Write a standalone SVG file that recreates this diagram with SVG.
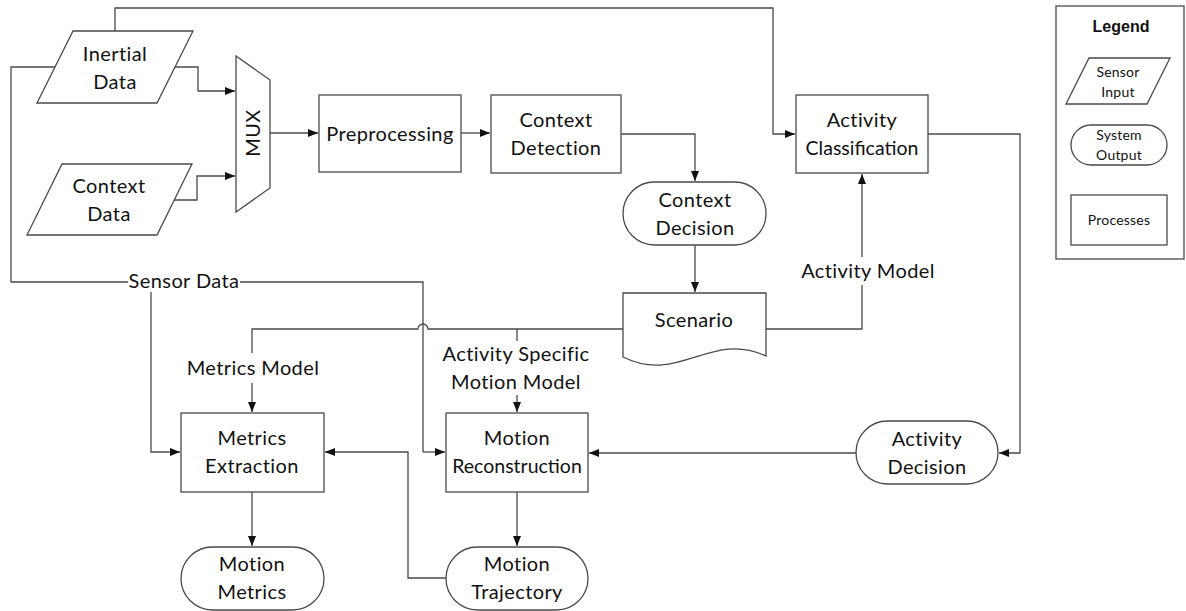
<svg xmlns="http://www.w3.org/2000/svg" width="1186" height="611" viewBox="0 0 1186 611">
  <defs>
    <marker id="arrow" viewBox="0 0 10 8" refX="10" refY="4" markerWidth="10" markerHeight="8" markerUnits="userSpaceOnUse" orient="auto">
      <path d="M0,0 L10,4 L0,8 Z" fill="#111"/>
    </marker>
    <style>
      .shape { fill: #fff; stroke: #4a4a4a; stroke-width: 1.3; }
      .wire { fill: none; stroke: #4a4a4a; stroke-width: 1.3; }
      .arr { marker-end: url(#arrow); }
      text { font-family: Lato, "Liberation Sans", sans-serif; font-size: 20px; letter-spacing: 0.4px; fill: #111; text-anchor: middle; }
      .tight { letter-spacing: 0; font-size: 19.5px; }
      .small { font-size: 14px; letter-spacing: 0.2px; }
      .title { font-family: "Liberation Sans", Arial, sans-serif; font-weight: bold; font-size: 16px; letter-spacing: 0; }
      .mask { fill: #fff; stroke: none; }
    </style>
  </defs>
  <rect width="1186" height="611" fill="#fff"/>

  <!-- connectors -->
  <g id="connectors">
    <path class="wire arr" d="M115,31 V8 H773 V134 H795"/>
    <path class="wire" d="M55,67 H11 V282 H423 V452"/>
    <path class="wire arr" d="M423,452 H445"/>
    <path class="wire arr" d="M151,282 V452 H180"/>
    <path class="wire arr" d="M175,67 H198 V91 H235"/>
    <path class="wire arr" d="M174,200 H197 V176 H235"/>
    <path class="wire arr" d="M270,133 H318"/>
    <path class="wire arr" d="M461,133 H490"/>
    <path class="wire arr" d="M621,134 H695 V181"/>
    <path class="wire arr" d="M695,245 V292"/>
    <path class="wire arr" d="M766,329 H862 V174"/>
    <path class="wire arr" d="M623,329 H428 A5,5 0 0 0 418,329 H252 V412"/>
    <path class="wire arr" d="M517,329 V412"/>
    <path class="wire arr" d="M928,134 H1020 V453 H999"/>
    <path class="wire arr" d="M856,453 H589"/>
    <path class="wire arr" d="M252,492 V546"/>
    <path class="wire arr" d="M517,492 V546"/>
    <path class="wire arr" d="M446,578 H408 V452 H325"/>
    <!-- connector labels -->
    <rect class="mask" x="128" y="272" width="112" height="20"/>
    <text x="184" y="288">Sensor Data</text>
    <rect class="mask" x="183" y="353" width="140" height="30"/>
    <text x="253" y="375">Metrics Model</text>
    <rect class="mask" x="436" y="341" width="161" height="54"/>
    <text x="516" y="361">Activity Specific</text>
    <text x="516" y="389">Motion Model</text>
    <rect class="mask" x="796" y="257" width="144" height="28"/>
    <text x="868" y="278">Activity Model</text>
  </g>

  <g id="inertial-data">
    <polygon class="shape" points="73,31 193,31 157,103 37,103"/>
    <text x="115" y="61">Inertial</text>
    <text x="115" y="89">Data</text>
  </g>

  <g id="context-data">
    <polygon class="shape" points="62,164 192,164 157,235 27,235"/>
    <text x="109" y="193">Context</text>
    <text x="109" y="221">Data</text>
  </g>

  <g id="mux">
    <polygon class="shape" points="236,56 270,80 270,188 236,212"/>
    <text x="0" y="0" transform="translate(260,133) rotate(-90)">MUX</text>
  </g>

  <g id="preprocessing">
    <rect class="shape" x="319" y="95" width="142" height="77"/>
    <text x="390" y="141">Preprocessing</text>
  </g>

  <g id="context-detection">
    <rect class="shape" x="491" y="95" width="130" height="78"/>
    <text x="556" y="127">Context</text>
    <text x="556" y="155">Detection</text>
  </g>

  <g id="context-decision">
    <rect class="shape" x="623" y="182" width="143" height="63" rx="31.5" ry="31.5"/>
    <text x="695" y="207">Context</text>
    <text x="695" y="235">Decision</text>
  </g>

  <g id="scenario">
    <path class="shape" d="M623,293 H766 V356 C710,330 680,385 623,357 Z"/>
    <text x="694" y="327">Scenario</text>
  </g>

  <g id="activity-classification">
    <rect class="shape" x="796" y="95" width="132" height="78"/>
    <text x="862" y="127">Activity</text>
    <text class="tight" x="862" y="155">Classification</text>
  </g>

  <g id="activity-decision">
    <rect class="shape" x="856" y="421" width="142" height="63" rx="31.5" ry="31.5"/>
    <text x="927" y="446">Activity</text>
    <text x="927" y="474">Decision</text>
  </g>

  <g id="metrics-extraction">
    <rect class="shape" x="181" y="413" width="143" height="79"/>
    <text x="252" y="445">Metrics</text>
    <text x="252" y="473">Extraction</text>
  </g>

  <g id="motion-reconstruction">
    <rect class="shape" x="446" y="413" width="142" height="79"/>
    <text x="517" y="445">Motion</text>
    <text class="tight" x="517" y="473">Reconstruction</text>
  </g>

  <g id="motion-metrics">
    <rect class="shape" x="181" y="547" width="143" height="63" rx="31.5" ry="31.5"/>
    <text x="252" y="571">Motion</text>
    <text x="252" y="599">Metrics</text>
  </g>

  <g id="motion-trajectory">
    <rect class="shape" x="446" y="547" width="142" height="63" rx="31.5" ry="31.5"/>
    <text x="517" y="571">Motion</text>
    <text x="517" y="599">Trajectory</text>
  </g>

  <g id="legend">
    <rect class="shape" x="1056" y="6" width="128" height="253"/>
    <text class="title" x="1121" y="32">Legend</text>
    <polygon class="shape" points="1089,58 1170,58 1147,104 1066,104"/>
    <text class="small" x="1118" y="77">Sensor</text>
    <text class="small" x="1118" y="97">Input</text>
    <rect class="shape" x="1071" y="125" width="96" height="40" rx="20" ry="20"/>
    <text class="small" x="1119" y="140">System</text>
    <text class="small" x="1119" y="160">Output</text>
    <rect class="shape" x="1071" y="195" width="96" height="50"/>
    <text class="small" x="1119" y="225">Processes</text>
  </g>
</svg>
